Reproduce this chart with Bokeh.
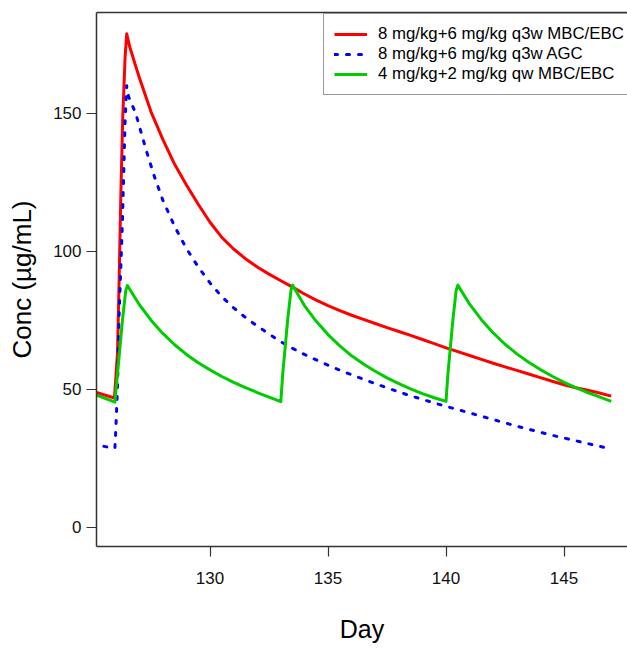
from bokeh.plotting import figure
from bokeh.models import Range1d, LinearAxis, FixedTicker, Legend, LegendItem
from bokeh.embed import file_html
from bokeh.resources import INLINE

# ---- data ----
red_day = [125.0, 125.95, 126.08, 126.15, 126.22, 126.3, 126.4, 126.47, 126.6,
           127.0, 127.5, 128.0, 128.5, 129.0, 129.5, 130.0, 130.5, 131.0, 131.5,
           132.0, 132.5, 133.0, 133.5, 134.0, 134.5, 135.0, 135.5, 136.0, 136.5,
           137.0, 137.5, 138.0, 138.5, 139.0, 139.5, 140.0, 140.5, 141.0, 141.5,
           142.0, 142.5, 143.0, 143.5, 144.0, 144.5, 145.0, 145.5, 146.0, 146.5,
           147.0]
red_conc = [49.3, 46.8, 63.0, 90.0, 120.0, 148.0, 170.0, 178.8, 174.0,
            163.0, 150.5, 140.5, 131.5, 124.0, 117.0, 110.5, 105.0, 100.8, 97.3,
            94.3, 91.7, 89.3, 87.0, 84.5, 82.3, 80.3, 78.5, 76.8, 75.3,
            73.8, 72.3, 70.9, 69.5, 68.0, 66.5, 65.0, 63.6, 62.2, 60.8,
            59.4, 58.1, 56.8, 55.5, 54.2, 52.9, 51.6, 50.5, 49.6, 48.6,
            47.5]

blue_day = [125.0, 125.97, 126.0, 126.08, 126.14, 126.29, 126.4, 126.47, 126.55,
            126.85, 127.28, 127.63, 128.0, 128.5, 129.0, 129.5, 130.0, 130.5,
            131.0, 131.5, 132.0, 132.5, 133.0, 133.5, 134.0, 134.5, 135.0, 135.5,
            136.0, 136.5, 137.0, 137.5, 138.0, 138.5, 139.0, 139.5, 140.0, 140.5,
            141.0, 141.5, 142.0, 142.5, 143.0, 143.5, 144.0, 144.5, 145.0, 145.5,
            146.0, 146.5, 147.0]
blue_conc = [30.0, 28.6, 33.8, 50.7, 75.0, 111.0, 147.0, 160.0, 156.0,
             150.0, 137.0, 127.4, 118.5, 109.0, 101.0, 94.3, 88.5, 83.5,
             79.5, 76.0, 72.9, 70.0, 67.2, 64.8, 62.6, 60.6, 58.7, 56.9,
             55.2, 53.6, 52.0, 50.5, 49.0, 47.6, 46.3, 45.0, 43.8, 42.6,
             41.4, 40.2, 39.0, 37.8, 36.6, 35.5, 34.4, 33.3, 32.3, 31.3,
             30.3, 29.3, 28.4]

green_day = [125.0, 125.97, 126.08, 126.29, 126.43, 126.5, 127.0, 127.5, 128.0,
             128.5, 129.0, 129.5, 130.0, 130.5, 131.0, 131.5, 132.0, 132.5, 133.0,
             133.08, 133.29, 133.43, 133.5, 134.0, 134.5, 135.0, 135.5, 136.0, 136.5,
             137.0, 137.5, 138.0, 138.5, 139.0, 139.5, 140.0,
             140.08, 140.29, 140.43, 140.5, 141.0, 141.5, 142.0, 142.5, 143.0, 143.5,
             144.0, 144.5, 145.0, 145.5, 146.0, 146.5, 147.0]
green_conc = [48.5, 45.3, 55.6, 75.0, 85.8, 87.6, 80.7, 75.0, 70.2,
              66.1, 62.6, 59.6, 57.0, 54.6, 52.5, 50.6, 48.8, 47.1, 45.5,
              55.5, 75.0, 85.8, 87.7, 80.3, 74.6, 69.8, 65.7, 62.1, 59.1,
              56.5, 54.1, 52.0, 50.1, 48.4, 46.9, 45.6,
              55.5, 75.0, 85.8, 87.7, 80.8, 75.2, 70.4, 66.3, 62.8, 59.8,
              57.1, 54.7, 52.5, 50.6, 48.8, 47.2, 45.6]

x_ticks = [130, 135, 140, 145]
y_ticks = [0, 50, 100, 150]
series_labels = ["8 mg/kg+6 mg/kg q3w MBC/EBC",
                 "8 mg/kg+6 mg/kg q3w AGC",
                 "4 mg/kg+2 mg/kg qw MBC/EBC"]

FONT = "Liberation Sans"
AXC = "#333333"

p = figure(width=627, height=648, output_backend="svg", toolbar_location=None,
           x_range=Range1d(125.19, 147.69), y_range=Range1d(-7.0, 186.5),
           min_border_left=96, min_border_right=0, min_border_top=12,
           min_border_bottom=102)
p.outline_line_color = None
p.grid.visible = False

for ax in (p.xaxis[0], p.yaxis[0]):
    ax.axis_line_color = AXC
    ax.axis_line_width = 1.5
    ax.major_tick_line_color = AXC
    ax.major_tick_line_width = 1.2
    ax.major_tick_out = 10
    ax.major_tick_in = 0
    ax.minor_tick_out = 0
    ax.minor_tick_in = 0
    ax.major_label_text_font = FONT
    ax.major_label_text_font_size = "17px"
    ax.major_label_text_color = "#111111"
    ax.axis_label_text_font = FONT
    ax.axis_label_text_font_style = "normal"
    ax.axis_label_text_color = "#000000"

p.xaxis[0].ticker = FixedTicker(ticks=x_ticks)
p.xaxis[0].major_label_standoff = 15
p.xaxis[0].axis_label = "Day"
p.xaxis[0].axis_label_text_font_size = "25px"
p.xaxis[0].axis_label_standoff = 28

p.yaxis[0].ticker = FixedTicker(ticks=y_ticks)
p.yaxis[0].major_label_standoff = 5
p.yaxis[0].axis_label = "Conc (µg/mL)"
p.yaxis[0].axis_label_text_font_size = "26px"
p.yaxis[0].axis_label_standoff = 13

top = LinearAxis(ticker=FixedTicker(ticks=[]), axis_line_color=AXC,
                 axis_line_width=1.5, major_tick_out=0, major_tick_in=0,
                 minor_tick_out=0, minor_tick_in=0,
                 major_label_text_font_size="0px")
p.add_layout(top, "above")

r1 = p.line(red_day, red_conc, line_color="#FF0000", line_width=3,
            line_join="round")
r2 = p.line(blue_day, blue_conc, line_color="#0000FF", line_width=3,
            line_dash="3 9", line_cap="round", line_join="round")
r3 = p.line(green_day, green_conc, line_color="#00CD00", line_width=3,
            line_join="round")

legend = Legend(items=[LegendItem(label=series_labels[0], renderers=[r1]),
                       LegendItem(label=series_labels[1], renderers=[r2]),
                       LegendItem(label=series_labels[2], renderers=[r3])],
                location=(227, 451))
legend.border_line_color = AXC
legend.border_line_width = 1.5
legend.background_fill_color = "white"
legend.background_fill_alpha = 1.0
legend.label_text_font = FONT
legend.label_text_font_size = "16.8px"
legend.label_text_color = "#000000"
legend.glyph_width = 33
legend.glyph_height = 18
legend.label_height = 18
legend.label_standoff = 11
legend.padding = 10
legend.spacing = 0
legend.margin = 0
p.add_layout(legend)

open("out.html", "w").write(file_html(p, INLINE))
